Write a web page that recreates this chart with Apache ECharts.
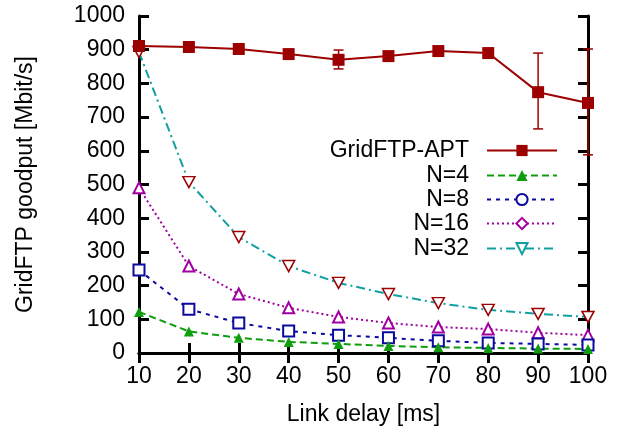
<!DOCTYPE html>
<html>
<head>
<meta charset="utf-8">
<script src="https://cdn.jsdelivr.net/npm/echarts@6/dist/echarts.min.js"></script>
<style>
  html, body { margin: 0; padding: 0; background: #fff; }
  #chart { width: 624px; height: 435px; }
</style>
</head>
<body>
<div id="chart"></div>
<script>
// link delay in ms
const delays = [10, 20, 30, 40, 50, 60, 70, 80, 90, 100];
// goodput in Mbit/s
const apt = [911, 908, 902, 887, 870, 881, 896, 890, 774, 742];
const aptLow = [906, 904, 898, 883, 843, 876, 891, 886, 665, 588];
const aptHigh = [916, 912, 906, 891, 899, 886, 901, 894, 890, 902];
const n4 = [122, 64, 45, 33, 27, 21, 17, 15, 13, 12];
const n8 = [246, 130, 89, 65, 53, 45, 36, 30, 27, 24];
const n16 = [490, 258, 175, 134, 107, 89, 77, 71, 60, 53];
const n32 = [893, 507, 344, 258, 208, 175, 148, 128, 116, 107];
const yTicks = [0, 100, 200, 300, 400, 500, 600, 700, 800, 900, 1000];

const FONT = 'Liberation Sans';
const RED = '#9c0000', GREEN = '#0d9d0d', BLUE = '#0a0aa0', MAG = '#a000a0', TEAL = '#11a0a0';
const invTri = 'path://M0,0 L10,0 L5,9 Z';

const pts = arr => delays.map((d, i) => [d, arr[i]]);

const chart = echarts.init(document.getElementById('chart'), null, { renderer: 'canvas' });

const axisCommon = {
    axisLine: { show: true, lineStyle: { color: '#000', width: 3 } },
    axisTick: { show: true, inside: true, length: 10, lineStyle: { color: '#000', width: 3 } },
    splitLine: { show: false }
};

// one legend per row so the text lines up on the right
function legendRow(name, top) {
    return {
        data: [name],
        right: 66,
        top: top,
        align: 'right',
        itemWidth: 70,
        itemHeight: 14,
        padding: 0,
        selectedMode: false,
        textStyle: { fontFamily: FONT, fontSize: 23, color: '#000', padding: [0, 13, 0, 0] }
    };
}

// empty series that only give the legend its key (line + marker)
function keySeries(name, symbol, size, color, itemStyle, lineType) {
    return {
        name: name, type: 'line', data: [],
        symbol: symbol, symbolSize: size,
        itemStyle: itemStyle || { color: color },
        lineStyle: { color: color, width: 2, type: lineType }
    };
}

const option = {
    animation: false,
    backgroundColor: '#fff',
    grid: { left: 139, right: 36, top: 16, bottom: 82 },
    legend: [
        legendRow('GridFTP-APT', 139),
        legendRow('N=4', 164),
        legendRow('N=8', 188),
        legendRow('N=16', 212),
        legendRow('N=32', 237)
    ],
    xAxis: [
        Object.assign({}, axisCommon, {
            type: 'value', min: 10, max: 100, interval: 10,
            name: 'Link delay [ms]', nameLocation: 'middle', nameGap: 50,
            nameTextStyle: { fontFamily: FONT, fontSize: 23, color: '#000' },
            axisLabel: { fontFamily: FONT, fontSize: 23, color: '#000', margin: 12 }
        }),
        Object.assign({}, axisCommon, {
            type: 'value', min: 10, max: 100, interval: 10, position: 'top',
            axisLabel: { show: false }
        })
    ],
    yAxis: [
        Object.assign({}, axisCommon, {
            type: 'value', min: yTicks[0], max: yTicks[yTicks.length - 1], interval: 100,
            name: 'GridFTP goodput [Mbit/s]', nameLocation: 'middle', nameGap: 102,
            nameTextStyle: { fontFamily: FONT, fontSize: 23, color: '#000' },
            axisLabel: { fontFamily: FONT, fontSize: 23, color: '#000', margin: 14, formatter: v => String(v) }
        }),
        Object.assign({}, axisCommon, {
            type: 'value', min: yTicks[0], max: yTicks[yTicks.length - 1], interval: 100,
            position: 'right', axisLabel: { show: false }
        })
    ],
    series: [
        keySeries('GridFTP-APT', 'rect', 12, RED, null, 'solid'),
        keySeries('N=4', 'triangle', 10, GREEN, null, [7, 4]),
        keySeries('N=8', 'emptyCircle', 11, BLUE, { color: BLUE, borderWidth: 1.5 }, [4, 5]),
        keySeries('N=16', 'emptyDiamond', 12, MAG, { color: MAG, borderWidth: 1.5 }, [2, 3]),
        keySeries('N=32', invTri, [12, 11], TEAL, { color: '#fff', borderColor: TEAL, borderWidth: 1.5 }, [9, 4, 2, 4]),
        {
            name: 'N=32', type: 'line', data: pts(n32), clip: false,
            symbol: invTri, symbolSize: [12, 11],
            itemStyle: { color: '#fff', borderColor: RED, borderWidth: 1.5 },
            lineStyle: { color: TEAL, width: 2, type: [9, 4, 2, 4] }
        },
        {
            name: 'N=16', type: 'line', data: pts(n16), clip: false,
            symbol: 'emptyTriangle', symbolSize: 11,
            itemStyle: { color: MAG, borderWidth: 1.5 },
            lineStyle: { color: MAG, width: 2, type: [2, 3] }
        },
        {
            name: 'N=8', type: 'line', data: pts(n8), clip: false,
            symbol: 'emptyRect', symbolSize: 11,
            itemStyle: { color: BLUE, borderWidth: 1.5 },
            lineStyle: { color: BLUE, width: 2, type: [4, 5] }
        },
        {
            name: 'N=4', type: 'line', data: pts(n4), clip: false,
            symbol: 'triangle', symbolSize: 10,
            itemStyle: { color: GREEN },
            lineStyle: { color: GREEN, width: 2, type: [7, 4] }
        },
        {
            name: 'GridFTP-APT', type: 'line', data: pts(apt), clip: false,
            symbol: 'rect', symbolSize: 12,
            itemStyle: { color: RED },
            lineStyle: { color: RED, width: 2 },
            z: 5
        },
        {
            name: 'apt-err', type: 'custom', clip: false, z: 4,
            data: delays.map((d, i) => [d, aptLow[i], aptHigh[i]]),
            encode: { x: 0, y: [1, 2] },
            renderItem: function (params, api) {
                const lo = api.coord([api.value(0), api.value(1)]);
                const hi = api.coord([api.value(0), api.value(2)]);
                const w = 5;
                const st = { stroke: RED, lineWidth: 1.5, fill: null };
                return {
                    type: 'group',
                    children: [
                        { type: 'line', shape: { x1: lo[0], y1: lo[1], x2: hi[0], y2: hi[1] }, style: st },
                        { type: 'line', shape: { x1: lo[0] - w, y1: lo[1], x2: lo[0] + w, y2: lo[1] }, style: st },
                        { type: 'line', shape: { x1: hi[0] - w, y1: hi[1], x2: hi[0] + w, y2: hi[1] }, style: st }
                    ]
                };
            }
        }
    ]
};

chart.setOption(option);
</script>
</body>
</html>
